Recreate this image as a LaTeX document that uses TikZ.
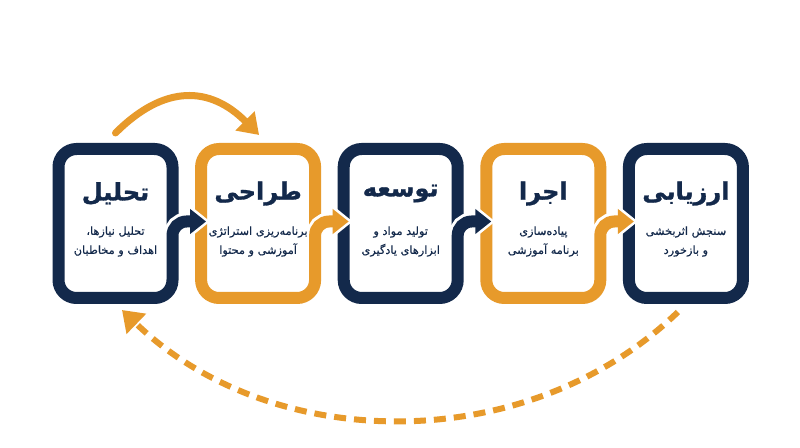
\documentclass[tikz,border=0pt]{standalone}
\usepackage{fontspec}
\usetikzlibrary{positioning,arrows.meta,calc}
\newfontfamily\farsi[Script=Arabic, FakeBold=0.5]{DejaVu Sans}
\newfontfamily\farsiheavy[Script=Arabic, FakeBold=1.2]{DejaVu Sans Bold}
\TeXXeTstate=1
\definecolor{navy}{RGB}{19,41,75}
\definecolor{gold}{RGB}{231,154,43}
\newcommand{\rtlline}[1]{\beginR#1\endR}
\tikzset{
  stage/.style={draw=#1, line width=12pt, rounded corners=18pt, fill=white,
    minimum width=114pt, minimum height=149pt, inner sep=0pt},
  stagetitle/.style={font=\farsiheavy\fontsize{24}{28}\selectfont, text=navy},
  stagetext/.style={font=\farsi\fontsize{11.3}{19}\selectfont, text=navy, align=center},
  halo/.style={draw=white, line width=18pt, rounded corners=14pt,
    -{Triangle[length=22pt,width=34pt]}},
  link/.style={draw=#1, line width=12pt, rounded corners=14pt,
    -{Triangle[length=16pt,width=24pt]}},
}
\begin{document}
\begin{tikzpicture}[x=1pt, y=1pt]
  \useasboundingbox[fill=white] (0,0) rectangle (800,447);

  % the five stages
  \node[stage=navy] (anl) at (115.5,223.5) {};
  \node[stage=gold, right=16.6pt of anl] (dsg) {};
  \node[stage=navy, right=16.6pt of dsg] (dev) {};
  \node[stage=gold, right=16.6pt of dev] (imp) {};
  \node[stage=navy, right=16.6pt of imp] (evl) {};

  % links between stages
  \foreach \a/\b/\c in {anl/dsg/navy, dsg/dev/gold, dev/imp/navy, imp/evl/gold}{
    \draw[halo] ($(\a.south east)+(-6,26)$) |- ($(\b.west)+(15,2)$);
    \draw[link=\c] ($(\a.south east)+(-6,26)$) |- ($(\b.west)+(11,2)$);
  }

  \foreach \n/\t/\a/\b in {anl/تحلیل/تحلیل نیازها،/اهداف و مخاطبان,
      dsg/طراحی/برنامه‌ریزی استراتژی/آموزشی و محتوا,
      dev/توسعه/تولید مواد و/ابزارهای یادگیری,
      imp/اجرا/پیاده‌سازی/برنامه آموزشی,
      evl/ارزیابی/سنجش اثربخشی/و بازخورد}{
    \node[stagetitle] (\n-t) at ($(\n)+(0,30)$) {\rtlline{\t}};
    \node[stagetext] (\n-d) at ($(\n)+(0,-18)$) {\rtlline{\a}\\\rtlline{\b}};
  }

  % top arc
  \draw[gold, line width=7pt, line cap=round, -{Triangle[length=20pt,width=26pt]}]
    ($(anl.north)+(0,10)$) .. controls +(49,49) and +(-49,49) .. ($(dsg.north)+(1,8)$);

  % feedback loop
  \draw[gold, line width=6pt, dash pattern=on 12pt off 8pt,
    -{Triangle[length=20pt,width=27pt]}]
    ($(evl.south)+(-8,-8)$) .. controls +(-150,-145) and +(150,-145) .. ($(anl.south)+(6.5,-6)$);
\end{tikzpicture}
\end{document}
